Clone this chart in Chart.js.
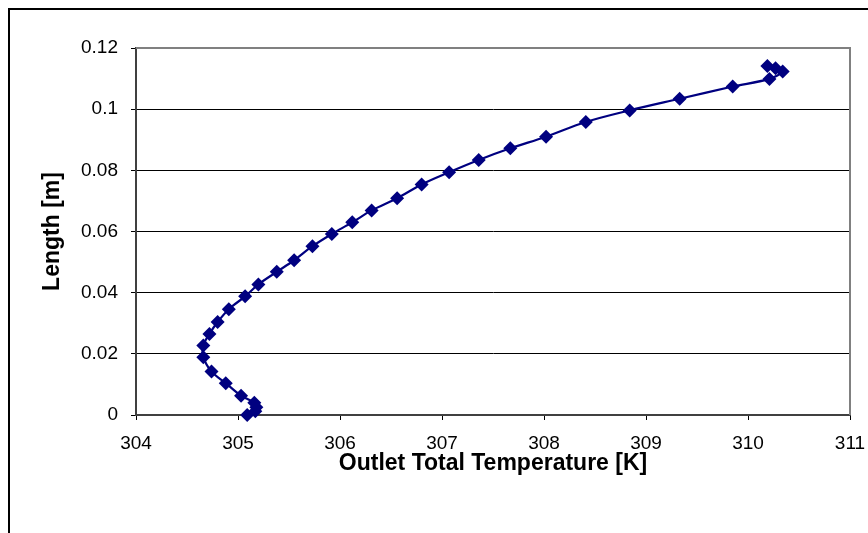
<!DOCTYPE html>
<html>
<head>
<meta charset="utf-8">
<script src="https://cdn.jsdelivr.net/npm/chart.js@4"></script>
<style>
  html, body { margin: 0; padding: 0; background: #fff; overflow: hidden; }
  #wrap { position: relative; width: 868px; height: 533px; }
  #frame {
    position: absolute; left: 8px; top: 8px; width: 900px; height: 600px;
    border: 2px solid #000; pointer-events: none;
  }
</style>
</head>
<body>
<div id="wrap">
  <canvas id="tempChart" width="868" height="533"></canvas>
  <div id="frame"></div>
</div>
<script>
// outlet total temperature [K] against length along the passage [m]
const temperature = [
  305.09, 305.17, 305.18, 305.16, 305.03, 304.88, 304.74, 304.66, 304.66,
  304.72, 304.80, 304.91, 305.07, 305.20, 305.38, 305.55, 305.73, 305.92,
  306.12, 306.31, 306.56, 306.80, 307.07, 307.36, 307.67, 308.02, 308.41,
  308.84, 309.33, 309.85, 310.21, 310.34, 310.27, 310.19
];
const length = [
  0.0000, 0.0012, 0.0025, 0.0040, 0.0063, 0.0104, 0.0142, 0.0189, 0.0227,
  0.0265, 0.0304, 0.0346, 0.0388, 0.0427, 0.0468, 0.0506, 0.0552, 0.0592,
  0.0630, 0.0669, 0.0709, 0.0754, 0.0794, 0.0834, 0.0872, 0.0910, 0.0958,
  0.0996, 0.1034, 0.1074, 0.1099, 0.1123, 0.1134, 0.1141
];
const xTicks = [304, 305, 306, 307, 308, 309, 310, 311];
const yTicks = [0, 0.02, 0.04, 0.06, 0.08, 0.1, 0.12];

const points = temperature.map((t, i) => ({ x: t, y: length[i] }));

// grey frame round the plot area (top and right edges)
const plotFrame = {
  id: 'plotFrame',
  afterDraw(chart) {
    const { ctx, chartArea: a } = chart;
    ctx.save();
    ctx.strokeStyle = '#808080';
    ctx.lineWidth = 2;
    ctx.beginPath();
    ctx.moveTo(a.left, a.top);
    ctx.lineTo(a.right, a.top);
    ctx.lineTo(a.right, a.bottom);
    ctx.stroke();
    ctx.restore();
  }
};

const ctx = document.getElementById('tempChart').getContext('2d');
new Chart(ctx, {
  type: 'scatter',
  data: {
    datasets: [{
      data: points,
      showLine: true,
      borderColor: '#000080',
      backgroundColor: '#000080',
      borderWidth: 2.2,
      tension: 0.35,
      pointStyle: 'rectRot',
      pointRadius: 7,
      pointBorderWidth: 0,
      clip: false
    }]
  },
  options: {
    responsive: false,
    animation: false,
    layout: { padding: { top: 48, right: 18, left: 0, bottom: 0 } },
    plugins: { legend: { display: false }, tooltip: { enabled: false } },
    scales: {
      x: {
        type: 'linear',
        min: 304,
        max: 311,
        afterBuildTicks: (s) => { s.ticks = xTicks.map(v => ({ value: v })); },
        afterFit: (s) => {
          s.height = 118;
          s.paddingLeft = 0;
          s.paddingRight = 0;
        },
        grid: { drawOnChartArea: false, color: '#000', tickLength: 5 },
        border: { color: '#404040', width: 2 },
        ticks: {
          color: '#000', padding: 12, maxRotation: 0,
          font: { family: 'Liberation Sans', size: 19 }
        },
        title: {
          display: true,
          text: 'Outlet Total Temperature [K]',
          color: '#000',
          padding: { bottom: 56 },
          font: { family: 'Liberation Sans', size: 23, weight: 'bold' }
        }
      },
      y: {
        type: 'linear',
        min: 0,
        max: 0.12,
        afterBuildTicks: (s) => { s.ticks = yTicks.map(v => ({ value: v })); },
        afterFit: (s) => {
          s.width = 136;
          s.paddingTop = 0;
          s.paddingBottom = 0;
        },
        grid: { color: '#000', lineWidth: 1, tickLength: 5 },
        border: { color: '#404040', width: 2 },
        ticks: {
          color: '#000', padding: 13,
          callback: (v) => String(v),
          font: { family: 'Liberation Sans', size: 19 }
        },
        title: {
          display: true,
          text: 'Length [m]',
          color: '#000',
          padding: { top: 39 },
          font: { family: 'Liberation Sans', size: 23, weight: 'bold' }
        }
      }
    }
  },
  plugins: [plotFrame]
});
</script>
</body>
</html>
